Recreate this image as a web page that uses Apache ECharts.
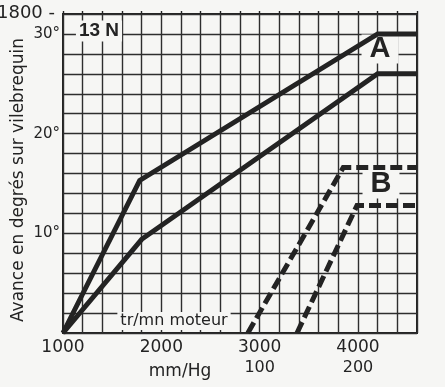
<!DOCTYPE html>
<html>
<head>
<meta charset="utf-8">
<script src="https://cdn.jsdelivr.net/npm/echarts@6/dist/echarts.min.js"></script>
<style>
html,body{margin:0;padding:0;background:#f6f6f4;}
#c{width:445px;height:387px;}
</style>
</head>
<body>
<div id="c"></div>
<script>
// ---- data ----
const xTickLabels = [1000, 2000, 3000, 4000];          // tr/mn moteur
const vacuumLabels = ['', '', '100', '200'];            // mm/Hg under each rpm label
const yTickLabels = [10, 20, 30];                       // degrees
const curveA_upper = [[1000, 0], [1780, 15.3], [4200, 30], [4600, 30]];
const curveA_lower = [[1000, 0], [1800, 9.4], [4200, 26], [4600, 26]];
const curveB_upper = [[2880, 0], [3850, 16.6], [4600, 16.6]];
const curveB_lower = [[3380, 0], [3990, 12.8], [4600, 12.8]];

const ink = '#232323';
const chart = echarts.init(document.getElementById('c'));
const solid = (d) => ({type:'line', data:d, symbol:'none', clip:true,
  lineStyle:{color:ink, width:5, cap:'butt', join:'miter'}, z:5});
const dashed = (d) => ({type:'line', data:d, symbol:'none', clip:true,
  lineStyle:{color:ink, width:5, type:[12,5], cap:'butt', join:'miter'}, z:5});

chart.setOption({
  backgroundColor:'#f6f6f4',
  animation:false,
  grid:{left:63, top:14, width:354, height:319, show:true, borderColor:ink, borderWidth:2, backgroundColor:'transparent'},
  xAxis:[{
    type:'value', min:1000, max:4600, interval:200,
    axisLine:{show:false}, axisTick:{show:false},
    splitLine:{show:true, lineStyle:{color:'#2e2e2e', width:1.4}},
    axisLabel:{
      margin:5, color:ink, fontFamily:'DejaVu Sans', fontSize:17, lineHeight:20,
      formatter:(v)=>{
        const i = xTickLabels.indexOf(v);
        if(i<0) return '';
        return vacuumLabels[i] ? v + '\n{s|' + vacuumLabels[i] + '}' : String(v);
      },
      rich:{s:{fontFamily:'DejaVu Sans', fontSize:16, color:ink, lineHeight:20}}
    }
  },{
    type:'value', min:1000, max:4600, interval:200, position:'top',
    axisLine:{show:false}, axisLabel:{show:false}, splitLine:{show:false},
    axisTick:{show:true, length:3, lineStyle:{color:ink, width:1.4}}
  }],
  yAxis:{
    type:'value', min:0, max:32, interval:2,
    axisLine:{show:false}, axisTick:{show:false},
    splitLine:{show:true, lineStyle:{color:'#2e2e2e', width:1.4}},
    axisLabel:{margin:3, color:ink, fontFamily:'DejaVu Sans', fontSize:15,
      formatter:(v)=> yTickLabels.includes(v) ? v + '°' : ''}
  },
  series:[solid(curveA_upper), solid(curveA_lower), dashed(curveB_upper), dashed(curveB_lower)],
  graphic:[
    {type:'text', left:-3, top:4, style:{text:'1800 -', fill:ink, font:'18px "DejaVu Sans"'}},
    {type:'text', x:19, y:180, rotation:Math.PI/2, style:{text:'Avance en degrés sur vilebrequin', fill:ink,
      font:'17px "DejaVu Sans"', align:'center', verticalAlign:'middle'}},
    {type:'text', x:99, y:31, z:3, style:{text:'13 N', fill:ink, font:'bold 19px "Liberation Sans"',
      align:'center', verticalAlign:'middle', backgroundColor:'#f6f6f4', padding:[1,3]}},
    {type:'text', x:380, y:49, z:3, style:{text:'A', fill:ink, font:'bold 29px "Liberation Sans"',
      align:'center', verticalAlign:'middle', backgroundColor:'#f6f6f4', padding:[0,8]}},
    {type:'text', x:381, y:184, z:3, style:{text:'B', fill:ink, font:'bold 29px "Liberation Sans"',
      align:'center', verticalAlign:'middle', backgroundColor:'#f6f6f4', padding:[0,8]}},
    {type:'text', x:174, y:321, z:3, style:{text:'tr/mn moteur', fill:ink, font:'16px "DejaVu Sans"',
      align:'center', verticalAlign:'middle', backgroundColor:'#f6f6f4', padding:[1,3]}},
    {type:'text', x:180, y:372, style:{text:'mm/Hg', fill:ink, font:'17px "DejaVu Sans"',
      align:'center', verticalAlign:'middle'}}
  ]
});
</script>
</body>
</html>
